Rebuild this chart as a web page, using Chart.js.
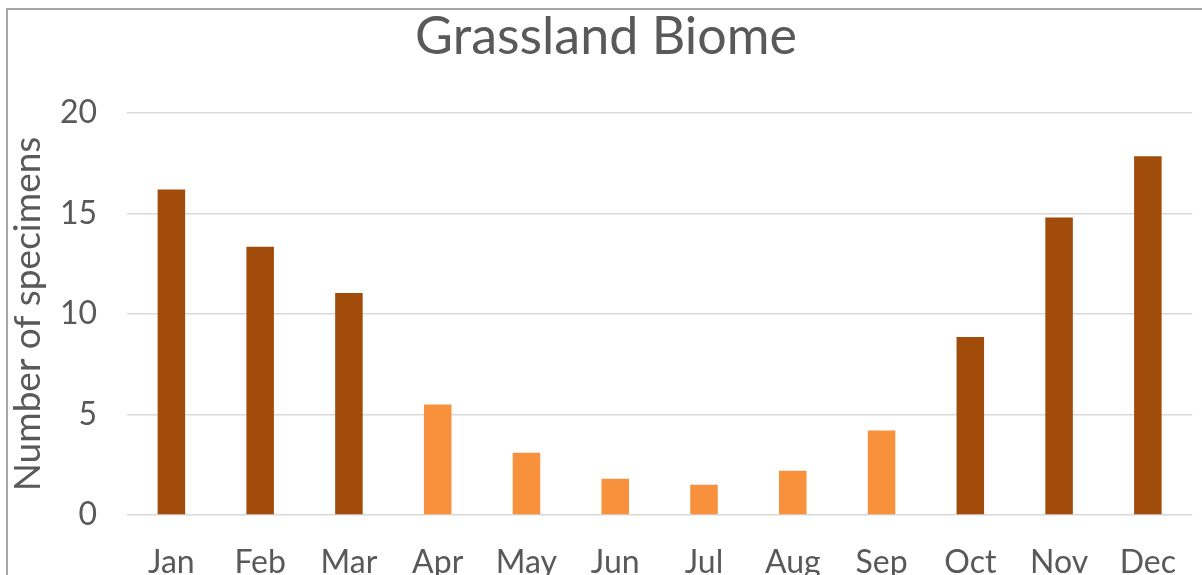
<!DOCTYPE html>
<html lang="en">
<head>
    <meta charset="UTF-8">
    <script src="https://cdn.jsdelivr.net/npm/chart.js"></script>
    <title>Grassland Biome</title>
</head>
<style>
    body {
        margin: 0;
        overflow: hidden;
        background: #ffffff;
    }

    .ChartBox {
        position: absolute;
        left: 6px;
        top: 8px;
        width: 1196px;
        height: 600px;
        border-left: 2px solid #a6a6a6;
        border-top: 2px solid #a6a6a6;
    }
</style>
<body>
    <div class="ChartBox">
        <canvas id="biomeChart" width="1196" height="600"></canvas>
    </div>
</body>
<script>
    const months = ['Jan', 'Feb', 'Mar', 'Apr', 'May', 'Jun', 'Jul', 'Aug', 'Sep', 'Oct', 'Nov', 'Dec'];
    const specimens = [16.2, 13.35, 11.05, 5.5, 3.1, 1.8, 1.5, 2.2, 4.2, 8.85, 14.8, 17.85];
    const warmMonths = ['Apr', 'May', 'Jun', 'Jul', 'Aug', 'Sep'];
    const yTicks = [0, 5, 10, 15, 20];

    const darkBrown = '#a14c0b';
    const lightOrange = '#f7913b';
    const textGrey = '#595959';

    var ctx = document.getElementById('biomeChart').getContext('2d');

    var chart = new Chart(ctx, {
        type: 'bar',
        data: {
            labels: months,
            datasets: [{
                label: 'Number of specimens',
                data: specimens,
                backgroundColor: months.map(m => warmMonths.includes(m) ? lightOrange : darkBrown),
                barPercentage: 0.31,
                categoryPercentage: 1.0
            }]
        },
        options: {
            responsive: false,
            animation: false,
            layout: {
                padding: 0
            },
            plugins: {
                legend: { display: false },
                tooltip: { enabled: false },
                title: {
                    display: true,
                    text: 'Grassland Biome',
                    color: textGrey,
                    font: { family: 'Lato', size: 52, weight: 'normal', lineHeight: 1 },
                    padding: { top: 1, bottom: 50 }
                }
            },
            scales: {
                x: {
                    grid: { display: false, drawTicks: false },
                    border: { display: false },
                    ticks: {
                        color: textGrey,
                        font: { family: 'Lato', size: 32 },
                        padding: 28
                    },
                    afterFit: axis => { axis.height = 95; }
                },
                y: {
                    min: 0,
                    max: 20,
                    afterBuildTicks: axis => { axis.ticks = yTicks.map(v => ({ value: v })); },
                    grid: { color: '#d9d9d9', lineWidth: 1.5, drawTicks: false },
                    border: { display: false },
                    ticks: {
                        color: textGrey,
                        font: { family: 'Lato', size: 32 },
                        padding: 30
                    },
                    title: {
                        display: true,
                        text: 'Number of specimens',
                        color: textGrey,
                        font: { family: 'Lato', size: 37, lineHeight: 1.1 },
                        padding: 0
                    },
                    afterFit: axis => { axis.width = 119; }
                }
            }
        }
    });
</script>
</html>
